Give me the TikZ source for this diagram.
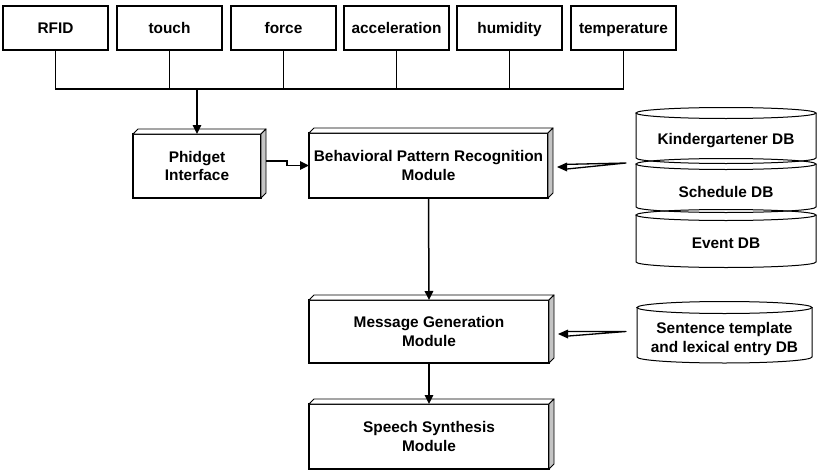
\documentclass[tikz,border=0pt]{standalone}
\usepackage{fontspec}
\setmainfont{Liberation Sans}
\usetikzlibrary{calc,arrows.meta}
\definecolor{facegray}{HTML}{C4C4C4}
\tikzset{
  every node/.style={font=\fontsize{15.4}{18.8}\selectfont\bfseries, outer sep=0pt, inner sep=0pt},
  sensor/.style={draw, line width=1.1pt, minimum width=105pt, minimum height=44pt, text height=11pt, text depth=0pt},
  module/.style={draw, fill=white, line width=1.1pt, align=center},
  dblabel/.style={align=center},
  conn/.style={line width=1.5pt},
  arr/.style={conn, -{Triangle[length=9pt,width=8.5pt]}},
  dbline/.style={line width=1pt},
}
\newcommand\boxdepth[1]{%
  \filldraw[fill=white, line width=0.9pt, line join=round] (#1.north west) -- ++(5,-5) -- ($(#1.north east)+(5,-5)$) -- (#1.north east) -- cycle;
  \filldraw[fill=facegray, line width=0.9pt, line join=round] (#1.north east) -- ++(5,-5) -- ($(#1.south east)+(5,-5)$) -- (#1.south east) -- cycle;}
\newcommand\dbcyl[6]{% x1 x2 xc ytop ybot ry
  \draw[dbline] (#1,#4) -- (#1,#5) arc[start angle=180, end angle=0, x radius={(#2-#1)/2}, y radius=#6] -- (#2,#4);
  \draw[dbline] (#3,#4) ellipse [x radius={(#2-#1)/2}, y radius=#6];}
\begin{document}
\begin{tikzpicture}[x=1pt, y=-1pt]
\useasboundingbox (0,0) rectangle (817,471);

% sensors
\node[sensor] (s1) at (55.5,28) {RFID};
\node[sensor] (s2) at (169.5,28) {touch};
\node[sensor] (s3) at (283.5,28) {force};
\node[sensor] (s4) at (396.5,28) {acceleration};
\node[sensor] (s5) at (509.5,28) {humidity};
\node[sensor] (s6) at (623.5,28) {temperature};

% modules
\node[module, minimum width=128pt, minimum height=64pt] (phid) at (197,166) {Phidget\\Interface};
\boxdepth{phid}
\node[module, minimum width=239pt, minimum height=65pt] (beh) at (428.5,165.5) {Behavioral Pattern Recognition\\Module};
\boxdepth{beh}
\node[module, minimum width=240pt, minimum height=63pt] (msg) at (429,331.5) {Message Generation\\Module};
\boxdepth{msg}
\node[module, minimum width=240pt, minimum height=65pt] (sp) at (429,436.5) {Speech Synthesis\\Module};
\boxdepth{sp}

% databases
\dbcyl{636}{816}{726}{113}{158}{5.5}
\dbcyl{636}{816}{726}{164}{207}{5.5}
\dbcyl{636}{816}{726}{215}{262}{5.5}
\node[dblabel] (kdb) at (726,141) {Kindergartener DB};
\node[dblabel] (sdb) at (726,192) {Schedule DB};
\node[dblabel] (edb) at (726,243) {Event DB};
\dbcyl{637}{812}{724.5}{307.5}{357}{6}
\node[dblabel] (snt) at (724.5,339) {Sentence template\\and lexical entry DB};

% bus
\coordinate (bus) at (197,89);
\draw[conn] (s1.south) -- (s1.south |- bus) -- (s6.south |- bus) -- (s6.south);
\foreach \s in {s2,s3,s4,s5} \draw[conn] (\s.south) -- (\s.south |- bus);
\draw[arr] (bus) -- (phid.north);

% module connectors
\draw[arr] ($(phid.east)+(5,-5)$) -- ++(21,0) |- (beh.west);
\draw[arr] (beh.south) -- (msg.north);
\draw[arr] (msg.south) -- (sp.north);

% tapered arrows from databases
\coordinate (t1) at (626,163);
\coordinate (h1) at ($(beh.east)+(9,1.5)$);
\filldraw[fill=white, line width=1.3pt, line join=round] (t1) -- ($(h1)+(8,-2.6)$) -- ($(h1)+(8,2.2)$) -- cycle;
\fill (h1) -- ++(10,-4.5) -- ++(0,9) -- cycle;
\coordinate (t2) at (626,331.5);
\coordinate (h2) at ($(msg.east)+(9,2.5)$);
\filldraw[fill=white, line width=1.3pt, line join=round] (t2) -- ($(h2)+(8,-2.6)$) -- ($(h2)+(8,2.2)$) -- cycle;
\fill (h2) -- ++(10,-4.5) -- ++(0,9) -- cycle;
\end{tikzpicture}
\end{document}
